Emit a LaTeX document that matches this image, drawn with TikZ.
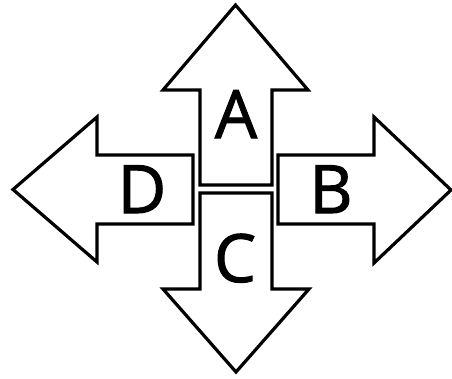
\documentclass[tikz,border=0pt]{standalone}
\usepackage{fontspec}
\setmainfont{Open Sans}
\newfontfamily\lettfont[FakeBold=1.6]{Open Sans}
\begin{document}
\begin{tikzpicture}[x=0.75pt,y=-0.75pt,
  arrowshape/.style={draw=black,fill=white,line width=2.4pt,line join=miter},
  letter/.style={anchor=base,inner sep=0pt,font=\lettfont\fontsize{50}{50}\selectfont}]
\useasboundingbox (0,0) rectangle (452,378);
% A (up)
\draw[arrowshape] (200,185) -- (200,90) -- (163,90) -- (235.5,5) -- (308,90) -- (272,90) -- (272,185) -- cycle;
% C (down)
\draw[arrowshape] (200,193) -- (200,289) -- (163,289) -- (236,372) -- (309,289) -- (272,289) -- (272,193) -- cycle;
% D (left)
\draw[arrowshape] (193,155) -- (97,155) -- (97,117) -- (13,189.5) -- (97,262) -- (97,224) -- (193,224) -- cycle;
% B (right)
\draw[arrowshape] (278,155) -- (374,155) -- (374,117) -- (451,190) -- (374,263) -- (374,224) -- (278,224) -- cycle;
\node[letter] (a) at (236,138) {A};
\node[letter] (c) at (235,282) {C};
\node[letter] (d) at (142,213) {D};
\node[letter] (b) at (331,213) {B};
\end{tikzpicture}
\end{document}
